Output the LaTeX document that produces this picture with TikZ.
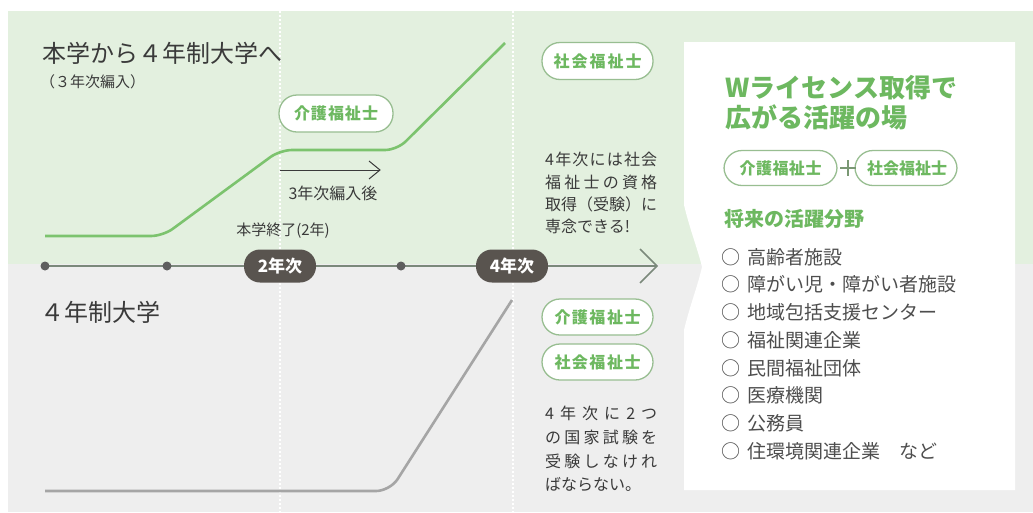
\documentclass[tikz,border=0pt]{standalone}
\usepackage{fontspec}
\setmainfont{Noto Sans CJK JP}
\usetikzlibrary{arrows.meta}
\def\spreadend{}
\def\spreadtext#1#2{\hbox to #1pt{\spreadaux#2\spreadend}}
\def\spreadaux#1#2\spreadend{#1\if\relax\detokenize{#2}\relax\else\hfil\spreadaux#2\spreadend\fi}
\newcommand\fsz[1]{\fontsize{#1}{#1}\selectfont}
\definecolor{bggreen}{HTML}{E3F0DF}
\definecolor{bggray}{HTML}{EEEEEE}
\definecolor{lgreen}{HTML}{7CC36E}
\definecolor{tgreen}{HTML}{6DB860}
\definecolor{pillborder}{HTML}{98BE91}
\definecolor{axisc}{HTML}{7B897B}
\definecolor{badgec}{HTML}{59544F}
\definecolor{dotc}{HTML}{5E5E5E}
\definecolor{lgray}{HTML}{A5A5A5}
\definecolor{txtc}{HTML}{3A3A3A}
\begin{document}
\begin{tikzpicture}[x=1pt,y=-1pt,
  pill/.style={draw=pillborder, line width=1.3, fill=white, rounded corners=18,
    minimum width=111, minimum height=37, inner sep=0, text=tgreen,
    font=\fsz{16}\bfseries},
  badge/.style={fill=badgec, rounded corners=16, minimum width=72, minimum height=33,
    inner sep=0, text=white, font=\fsz{17}\bfseries},
  lbl/.style={inner sep=0, anchor=west, text=txtc},
  greenline/.style={draw=lgreen, line width=2.6, rounded corners=12},
  grayline/.style={draw=lgray, line width=2.6, rounded corners=14},
  vdots/.style={draw=white, line width=2, dash pattern=on 2 off 2}
]
\useasboundingbox (0,0) rectangle (1033,512);
\fill[white] (0,0) rectangle (1033,512);
\fill[bggreen] (8,11) rectangle (1033,264);
\fill[bggray] (8,264) rectangle (1033,512);
% vertical dotted guides
\coordinate (v1t) at (280,11); \coordinate (v1b) at (280,512);
\coordinate (v2t) at (513,11); \coordinate (v2b) at (513,512);
\draw[vdots] (v1t) -- (v1b);
\draw[vdots] (v2t) -- (v2b);
% white box
\fill[white] (684,42) -- (1015,42) -- (1015,490) -- (684,490) -- (684,330)
  .. controls (690,305) and (698,285) .. (702,267)
  .. controls (698,250) and (690,230) .. (684,205) -- cycle;
% axis
\coordinate (axS) at (45,266);
\coordinate (axE) at (657,266);
\draw[axisc, line width=2] (axS) -- (axE);
\draw[axisc, line width=1.5] ([shift={(-17,-17)}]axE) -- (axE) -- ([shift={(-17,17)}]axE);
\coordinate (d2) at (167,266);
\coordinate (d3) at (401,266);
\fill[dotc] (axS) circle (4.5);
\fill[dotc] (d2) circle (4.5);
\fill[dotc] (d3) circle (4.5);
\node[badge] (b2) at (280,266) {2年次};
\node[badge] (b4) at (512,266) {4年次};
% green curve
\coordinate (g1) at (45,236);
\coordinate (g2) at (163,236);
\coordinate (g3) at (280,150);
\coordinate (g4) at (397,150);
\coordinate (g5) at (505,43);
\draw[greenline] (g1) -- (g2) -- (g3) -- (g4) -- (g5);
% gray curve
\coordinate (h1) at (45,491);
\coordinate (h2) at (390,491);
\coordinate (h3) at (512,300);
\draw[grayline] (h1) -- (h2) -- (h3);
% small arrow
\coordinate (sa) at (280,170);
\coordinate (sb) at (380,170);
\draw[txtc, line width=1] (sa) -- (sb);
\draw[txtc, line width=1] ([shift={(-11,-9)}]sb) -- (sb) -- ([shift={(-11,9)}]sb);
% left texts
\node[lbl, font=\fsz{24}] (t1) at (42,53) {本学から４年制大学へ};
\node[lbl, font=\fsz{15}] (t2) at (40,82) {（３年次編入）};
\node[lbl, font=\fsz{24}] (t3) at (40,312) {４年制大学};
\node[inner sep=0, text=txtc, font=\fsz{16}] (t4) at (333,193) {3年次編入後};
\node[inner sep=0, text=txtc, font=\fsz{15}] (t5) at (283,231) {本学終了(2年)};
% pills
\node[pill, minimum width=114] (p1) at (336,113.5) {\spreadtext{84}{介護福祉士}};
\node[pill] (p2) at (597.5,61) {\spreadtext{88}{社会福祉士}};
\node[pill, minimum height=36] (p3) at (597.5,317) {\spreadtext{86}{介護福祉士}};
\node[pill, minimum height=36] (p4) at (597.5,362) {\spreadtext{86}{社会福祉士}};
% middle text blocks
\node[lbl, font=\fsz{16}] (m1) at (545,159) {\spreadtext{112}{4年次には社会}};
\node[lbl, font=\fsz{16}] (m2) at (545,182) {\spreadtext{112}{福祉士の資格}};
\node[lbl, font=\fsz{16}] (m3) at (545,204) {\spreadtext{112}{取得（受験）に}};
\node[lbl, font=\fsz{16}] (m4) at (545,226) {専念できる!};
\node[lbl, font=\fsz{16}] (n1) at (545,413) {\spreadtext{112}{4年次に2つ}};
\node[lbl, font=\fsz{16}] (n2) at (545,437) {\spreadtext{112}{の国家試験を}};
\node[lbl, font=\fsz{16}] (n3) at (545,461) {\spreadtext{112}{受験しなけれ}};
\node[lbl, font=\fsz{16}] (n4) at (545,484) {ばならない。};
% white box content
\node[lbl, text=tgreen, font=\fsz{26}\bfseries] (w1) at (725,88) {Wライセンス取得で};
\node[lbl, text=tgreen, font=\fsz{26}\bfseries] (w2) at (725,117) {広がる活躍の場};
\node[pill, minimum width=113, minimum height=35] (q1) at (780.5,168) {\spreadtext{82}{介護福祉士}};
\node[pill, minimum width=102, minimum height=35] (q2) at (906,168) {\spreadtext{78}{社会福祉士}};
\coordinate (plus) at (848,168);
\draw[pillborder!80!black, line width=1.2] ([shift={(-8,0)}]plus) -- ([shift={(8,0)}]plus)
  ([shift={(0,-8)}]plus) -- ([shift={(0,8)}]plus);
\node[lbl, text=tgreen, font=\fsz{20}\bfseries] (w3) at (724,219) {将来の活躍分野};
\foreach \t [count=\i from 0] in {高齢者施設,障がい児・障がい者施設,地域包括支援センター,福祉関連企業,民間福祉団体,医療機関,公務員,住環境関連企業　など}
  \node[lbl, text=txtc!90!white, font=\fsz{19}] (li\i) at (721,257+27.7*\i) {○\hspace{7pt}\t};
\end{tikzpicture}
\end{document}
